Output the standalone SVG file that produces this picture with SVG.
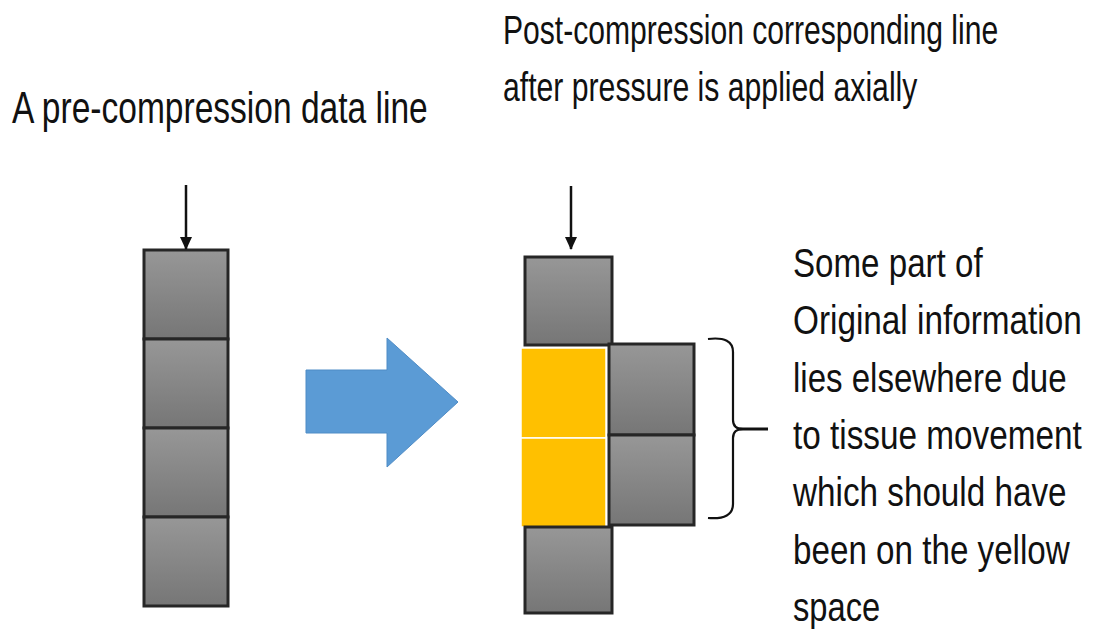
<svg xmlns="http://www.w3.org/2000/svg" width="1097" height="631" viewBox="0 0 1097 631">
  <defs>
    <linearGradient id="gray" x1="0" y1="0" x2="0" y2="1">
      <stop offset="0" stop-color="#979797"/>
      <stop offset="1" stop-color="#767676"/>
    </linearGradient>
    <marker id="ah" viewBox="0 0 13 14" refX="12" refY="7" markerWidth="13" markerHeight="14" orient="auto" markerUnits="userSpaceOnUse">
      <path d="M0,1 L13,7 L0,13 z" fill="#111"/>
    </marker>
    <style>
      .box { fill: url(#gray); stroke: #262626; stroke-width: 3; }
      .yel { fill: #FFC000; stroke: #ffffff; stroke-width: 1.5; }
      .txt { font-family: "Liberation Sans", Arial, sans-serif; fill: #111; }
      .arr { stroke: #111; stroke-width: 2.5; fill: none; }
      .brace { stroke: #111; stroke-width: 2.2; fill: none; }
    </style>
  </defs>
  <rect width="1097" height="631" fill="#ffffff"/>

  <g id="title-left" transform="translate(12,0) scale(0.76,1)">
    <text class="txt" x="0" y="123" font-size="44" textLength="547" lengthAdjust="spacingAndGlyphs">A pre-compression data line</text>
  </g>
  <g id="title-right" transform="translate(503,0) scale(0.8,1)">
    <text class="txt" x="0" y="44" font-size="40" textLength="619" lengthAdjust="spacingAndGlyphs">Post-compression corresponding line</text>
    <text class="txt" x="0" y="101" font-size="40" textLength="518" lengthAdjust="spacingAndGlyphs">after pressure is applied axially</text>
  </g>

  <g id="pre-column">
    <rect class="box" x="144" y="250" width="84" height="89"/>
    <rect class="box" x="144" y="339" width="84" height="89"/>
    <rect class="box" x="144" y="428" width="84" height="89"/>
    <rect class="box" x="144" y="517" width="84" height="89"/>
  </g>

  <g id="post-column">
    <rect class="box" x="525" y="257" width="87" height="88"/>
    <rect class="box" x="609" y="344" width="85" height="91"/>
    <rect class="box" x="609" y="435" width="85" height="90"/>
    <rect class="yel" x="521" y="348" width="85" height="90"/>
    <rect class="yel" x="521" y="438" width="85" height="89"/>
    <rect class="box" x="525" y="527" width="87" height="86"/>
  </g>

  <g id="transform-arrow">
    <polygon points="306,370 387,370 387,338 458,402 387,467 387,433 306,433" fill="#5B9BD5" stroke="#4F8CC6" stroke-width="1"/>
  </g>

  <g id="brace">
    <path class="brace" d="M708,339 Q733,336 733,352 L733,420 Q733,429 743,429 Q733,429 733,438 L733,504 Q733,520 708,518"/>
    <line x1="738" y1="429" x2="768" y2="429" stroke="#111" stroke-width="3"/>
  </g>

  <g id="note" transform="translate(793,0) scale(0.8,1)">
    <text class="txt" x="0" y="277" font-size="40" textLength="237" lengthAdjust="spacingAndGlyphs">Some part of</text>
    <text class="txt" x="0" y="334" font-size="40" textLength="361" lengthAdjust="spacingAndGlyphs">Original information</text>
    <text class="txt" x="0" y="392" font-size="40" textLength="342" lengthAdjust="spacingAndGlyphs">lies elsewhere due</text>
    <text class="txt" x="0" y="449" font-size="40" textLength="361" lengthAdjust="spacingAndGlyphs">to tissue movement</text>
    <text class="txt" x="0" y="506" font-size="40" textLength="342" lengthAdjust="spacingAndGlyphs">which should have</text>
    <text class="txt" x="0" y="564" font-size="40" textLength="346" lengthAdjust="spacingAndGlyphs">been on the yellow</text>
    <text class="txt" x="0" y="621" font-size="40" textLength="109" lengthAdjust="spacingAndGlyphs">space</text>
  </g>

  <g id="connectors">
    <line class="arr" x1="186" y1="185" x2="186" y2="249" marker-end="url(#ah)"/>
    <line class="arr" x1="571" y1="186" x2="571" y2="249" marker-end="url(#ah)"/>
  </g>
</svg>
